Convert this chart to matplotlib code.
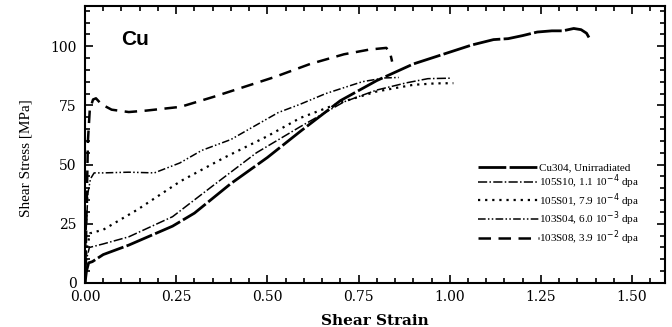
import matplotlib
matplotlib.use("Agg")
import matplotlib.pyplot as plt
from matplotlib.ticker import MultipleLocator

cu304_x = [0, 0.004, 0.01, 0.02, 0.05, 0.12, 0.24, 0.30, 0.40, 0.50, 0.59, 0.70, 0.80,
           0.90, 1.00, 1.06, 1.12, 1.16, 1.20, 1.24, 1.28, 1.31, 1.34, 1.36, 1.375, 1.385]
cu304_y = [0, 5, 8.5, 9, 12, 16, 24, 29.5, 42, 53, 64, 77, 85.5,
           92.5, 97.5, 100.5, 102.8, 103.2, 104.5, 106, 106.5, 106.5, 107.5, 107, 105.5, 102.8]

s10_x = [0, 0.004, 0.012, 0.05, 0.12, 0.24, 0.35, 0.47, 0.59, 0.71, 0.80, 0.88, 0.94, 1.0]
s10_y = [0, 10, 15, 16.5, 19.5, 28, 41, 55, 66, 76.5, 81.5, 84.5, 86.3, 86.5]

s01_x = [0, 0.004, 0.014, 0.05, 0.144, 0.262, 0.38, 0.50, 0.59, 0.71, 0.80, 0.90, 0.96, 1.01]
s01_y = [0, 14, 21, 22.5, 31, 43, 52.8, 62, 69.7, 76.7, 80.9, 83.7, 84.3, 84.4]

s04_x = [0, 0.003, 0.008, 0.015, 0.025, 0.05, 0.12, 0.19, 0.26, 0.32, 0.40, 0.45,
         0.53, 0.59, 0.66, 0.76, 0.82, 0.86]
s04_y = [0, 22, 38, 44, 46.5, 46.5, 46.8, 46.5, 50.7, 56, 60.6, 65,
         72, 75.5, 80, 85, 86.6, 86.8]

s08_x = [0, 0.003, 0.008, 0.013, 0.022, 0.03, 0.045, 0.073, 0.12, 0.167, 0.262, 0.352,
         0.45, 0.52, 0.617, 0.71, 0.78, 0.826, 0.836, 0.842]
s08_y = [0, 20, 60, 73, 77.5, 78, 75.5, 73.2, 72.2, 72.8, 74.4, 78.6,
         83.5, 87, 92.5, 96.6, 98.6, 99.3, 97.5, 93.5]

labels = ["Cu304, Unirradiated",
          "105S10, 1.1 10$^{-4}$ dpa",
          "105S01, 7.9 10$^{-4}$ dpa",
          "103S04, 6.0 10$^{-3}$ dpa",
          "103S08, 3.9 10$^{-2}$ dpa"]

serif = "DejaVu Serif"

fig = plt.figure(figsize=(6.72, 3.27), dpi=100)
ax = fig.add_axes([0.1265, 0.1346, 0.863, 0.8471])

ax.plot(cu304_x, cu304_y, color="black", lw=2.0, ls=(0, (10, 1.2)), label=labels[0])
ax.plot(s10_x, s10_y, color="black", lw=1.1, ls=(0, (6, 1.5, 1, 1.5)), label=labels[1])
ax.plot(s01_x, s01_y, color="black", lw=1.6, ls=(0, (1, 2.2)), label=labels[2])
ax.plot(s04_x, s04_y, color="black", lw=1.1, ls=(0, (5, 1.5, 1, 1.5, 1, 1.5)), label=labels[3])
ax.plot(s08_x, s08_y, color="black", lw=1.8, ls=(0, (5, 3)), label=labels[4])

ax.set_xlim(0, 1.59)
ax.set_ylim(0, 117)
ax.xaxis.set_major_locator(MultipleLocator(0.25))
ax.xaxis.set_minor_locator(MultipleLocator(0.05))
ax.yaxis.set_major_locator(MultipleLocator(25))
ax.yaxis.set_minor_locator(MultipleLocator(5))
ax.tick_params(which="both", direction="in", top=True, right=True, width=1.2)
ax.tick_params(which="major", length=6, labelsize=10)
ax.tick_params(axis="y", pad=6)
ax.tick_params(axis="x", pad=5)
ax.tick_params(which="minor", length=3.5)
ax.set_xticklabels([f"{v:.2f}" for v in ax.get_xticks()])
for t in ax.get_xticklabels() + ax.get_yticklabels():
    t.set_family(serif)
for s in ax.spines.values():
    s.set_linewidth(1.5)

ax.set_xlabel("Shear Strain", family=serif, fontsize=11, fontweight="bold", labelpad=7)
ax.set_ylabel("Shear Stress [MPa]", family="Liberation Serif", fontsize=11)
ax.yaxis.set_label_coords(-0.09, 0.45)

ax.text(0.10, 103, "Cu", family="Liberation Sans", fontsize=15, fontweight="bold",
        va="center", ha="left")

leg = ax.legend(loc="lower right", bbox_to_anchor=(0.965, 0.11), frameon=False,
                prop={"family": "Liberation Serif", "size": 8},
                handlelength=5.5, handletextpad=0.0, labelspacing=0.0,
                borderpad=0.0)

fig.savefig("out.png", dpi=100)
